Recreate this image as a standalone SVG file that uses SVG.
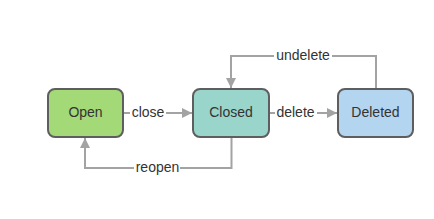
<svg xmlns="http://www.w3.org/2000/svg" width="434" height="219" viewBox="0 0 434 219">
<style>
.node{stroke:#5e5e5e;stroke-width:2}
.t{font-family:"Liberation Sans",Arial,sans-serif;font-size:14px;fill:#333;text-anchor:middle;dominant-baseline:central}
.e{fill:none;stroke:#a3a3a3;stroke-width:2}
.lb{font-family:"Liberation Sans",Arial,sans-serif;font-size:14px;fill:#333;text-anchor:middle;dominant-baseline:central}
.bg{fill:#fff}
</style>
<defs>
<marker id="ah" markerWidth="10" markerHeight="10" refX="10" refY="5" orient="auto" markerUnits="userSpaceOnUse">
<path d="M0,0 L10,5 L0,10 Z" fill="#a3a3a3"/>
</marker>
</defs>
<rect width="434" height="219" fill="#fff"/>
<g id="connectors">
<path class="e" d="M123,113 H192" marker-end="url(#ah)"/>
<path class="e" d="M269,113 H337" marker-end="url(#ah)"/>
<path class="e" d="M376,89 V56 H231 V88" marker-end="url(#ah)"/>
<path class="e" d="M231.5,137 V168 H85 V138" marker-end="url(#ah)"/>
<rect class="bg" x="130" y="104" width="36" height="18"/>
<text class="lb" x="148" y="112">close</text>
<rect class="bg" x="275" y="104" width="42" height="18"/>
<text class="lb" x="295.5" y="112">delete</text>
<rect class="bg" x="274" y="47" width="58" height="18"/>
<text class="lb" x="303" y="55">undelete</text>
<rect class="bg" x="134" y="159" width="46" height="18"/>
<text class="lb" x="157.5" y="167">reopen</text>
</g>
<g id="open">
<rect class="node" x="48" y="89" width="75" height="48" rx="7" fill="#a3d977"/>
<text class="t" x="85.5" y="112">Open</text>
</g>
<g id="closed">
<rect class="node" x="193" y="89" width="76" height="48" rx="7" fill="#99d5ca"/>
<text class="t" x="231" y="112">Closed</text>
</g>
<g id="deleted">
<rect class="node" x="338" y="89" width="75" height="48" rx="7" fill="#b3d5f0"/>
<text class="t" x="375.5" y="112">Deleted</text>
</g>
</svg>
